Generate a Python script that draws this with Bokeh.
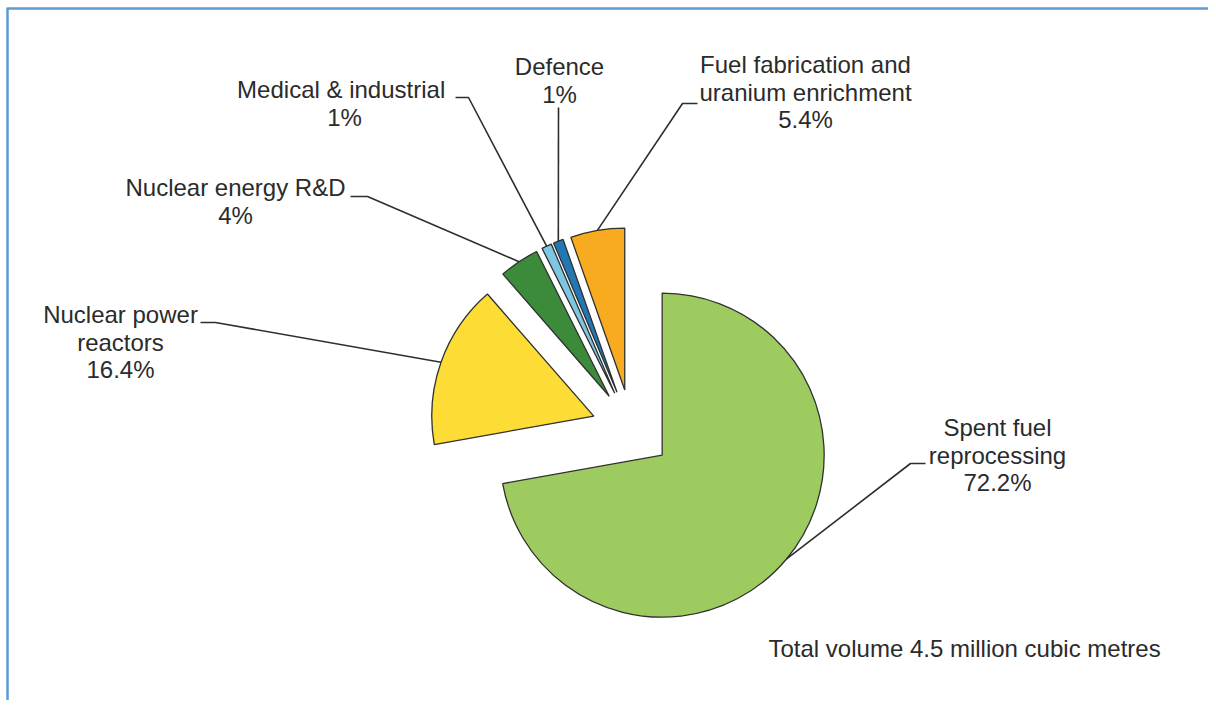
import numpy as np
from bokeh.plotting import figure
from bokeh.models import Range1d
from bokeh.embed import file_html
from bokeh.resources import INLINE
from bokeh.core.properties import value

# ---------------- data ----------------
categories = [
    "Spent fuel\nreprocessing",
    "Nuclear power\nreactors",
    "Nuclear energy R&D",
    "Medical  & industrial",
    "Defence",
    "Fuel fabrication and\nuranium enrichment",
]
shares = [72.2, 16.4, 4.0, 1.0, 1.0, 5.4]
share_labels = ["72.2%", "16.4%", "4%", "1%", "1%", "5.4%"]
note = "Total volume 4.5 million cubic metres"

# ---------------- style / layout ----------------
colors = ["#9DCB5F", "#FCDC35", "#3B8B3B", "#7FC6E3", "#2178B2", "#F9AB20"]
W, H = 1208, 700
PAGE_H = 707
def Y(s):  # screen-y (reference picture) -> data y
    return PAGE_H - s

CX, CY = 631.0, Y(429.0)
R = 162.0
EXPLODE = 40.0
LINE_GAP = 27.5
FONT = "Liberation Sans"
FSIZE = "24px"
TXT = "#2b2b2b"

# label anchors (center x, first line screen y)
label_pos = [(997, 427), (120, 314), (235, 187), (344, 89), (559, 66), (805, 64)]
# leader start point and elbow (screen coords)
leader_start = [(925, 463), (200, 322), (350, 196), (455, 97), (558, 107), (697, 103)]
leader_elbow = [(910, 463), (215, 322), (367, 196), (468, 97), (558, 107), (682, 103)]

p = figure(width=W, height=H, output_backend="svg", toolbar_location=None,
           x_range=Range1d(0, W), y_range=Range1d(Y(H), Y(0)),
           min_border=0, background_fill_color="white", border_fill_color="white")
p.axis.visible = False
p.grid.visible = False
p.outline_line_color = None

total = float(sum(shares))
cum = np.cumsum([0.0] + shares)
a_start = np.radians(90.0 - 360.0 * cum[:-1] / total)
a_end = np.radians(90.0 - 360.0 * cum[1:] / total)
mid = (a_start + a_end) / 2.0
cxs = CX + EXPLODE * np.cos(mid)
cys = CY + EXPLODE * np.sin(mid)

p.wedge(x=list(cxs), y=list(cys), radius=R, start_angle=list(a_end), end_angle=list(a_start),
        direction="anticlock", fill_color=colors, line_color="#303030", line_width=1.3)

# leader lines
xs, ys = [], []
for i in range(len(shares)):
    ax = cxs[i] + R * np.cos(mid[i])
    ay = cys[i] + R * np.sin(mid[i])
    sx, sy = leader_start[i]
    ex, ey = leader_elbow[i]
    xs.append([sx, ex, ax])
    ys.append([Y(sy), Y(ey), ay])
p.multi_line(xs=xs, ys=ys, line_color="#2e2e2e", line_width=1.6)

# labels
tx, ty, tt = [], [], []
for i, name in enumerate(categories):
    lines = name.split("\n") + [share_labels[i]]
    x0, y0 = label_pos[i]
    for k, ln in enumerate(lines):
        tx.append(x0)
        ty.append(Y(y0 + k * LINE_GAP))
        tt.append(ln)
p.text(x=tx, y=ty, text=tt, text_align="center", text_baseline="middle",
       text_font=value(FONT), text_font_size=FSIZE, text_color=TXT)

p.text(x=[768], y=[Y(648)], text=[note], text_align="left", text_baseline="middle",
       text_font=value(FONT), text_font_size=FSIZE, text_color=TXT)

# frame (top and left edges)
p.segment(x0=[7, 7], y0=[Y(8), Y(7)], x1=[W, 7], y1=[Y(8), Y(H)],
          line_color="#5B9BD5", line_width=2.5)

open("out.html", "w").write(file_html(p, INLINE))
